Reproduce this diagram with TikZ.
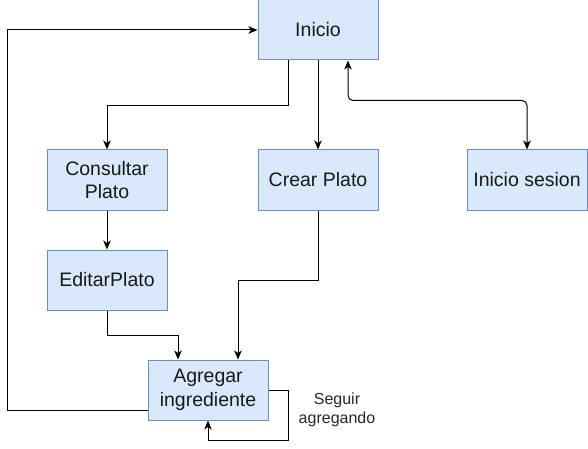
\documentclass[tikz,border=0pt]{standalone}
\usepackage{fontspec}
\setmainfont{Liberation Sans}
\usetikzlibrary{arrows.meta}
\definecolor{boxfill}{HTML}{DAE8FC}
\definecolor{boxline}{HTML}{6C8EBF}
\tikzset{
  stepbox/.style={draw=boxline, fill=boxfill, line width=1pt, minimum width=120pt, minimum height=60pt, inner sep=0pt, align=center, font=\fontsize{19.5}{23.5}\selectfont, text=black!90},
  arr/.style={line width=1pt, -{Stealth[length=9pt,width=7.5pt,inset=2.5pt]}},
  arrb/.style={line width=1pt, {Stealth[length=9pt,width=7.5pt,inset=2.5pt]}-{Stealth[length=9pt,width=7.5pt,inset=2.5pt]}},
  lbl/.style={align=center, font=\fontsize{16}{18.5}\selectfont, text=black!85, inner sep=0pt}
}
\begin{document}
\begin{tikzpicture}[x=1pt,y=-1pt]
\useasboundingbox (0,0) rectangle (588,449);
\node[stepbox] (ini) at (318,30) {Inicio};
\node[stepbox] (con) at (107,180) {Consultar\\Plato};
\node[stepbox] (cre) at (318,180) {Crear Plato};
\node[stepbox] (ses) at (527,180) {Inicio sesion};
\node[stepbox] (edi) at (107,280) {EditarPlato};
\node[stepbox] (agr) at (208,390) {Agregar\\ingrediente};
\node[lbl] (seg) at (337,410) {Seguir\\agregando};
\draw[arr] ([xshift=-30pt]ini.south) -- ++(0,45) -| (con.north);
\draw[arr] (ini.south) -- (cre.north);
\draw[arrb, rounded corners=5pt] ([xshift=30pt]ini.south) -- ++(0,40) -| (ses.north);
\draw[arr] (con.south) -- (edi.north);
\draw[arr] (edi.south) -- ++(0,25) -| ([xshift=-30pt]agr.north);
\draw[arr] (cre.south) -- ++(0,70) -| ([xshift=30pt]agr.north);
\draw[arr] ([yshift=-20pt]agr.west) -- ++(-140,0) |- (ini.west);
\draw[arr] (agr.east) -- ++(20,0) -- ++(0,50) -| (agr.south);
\end{tikzpicture}
\end{document}
